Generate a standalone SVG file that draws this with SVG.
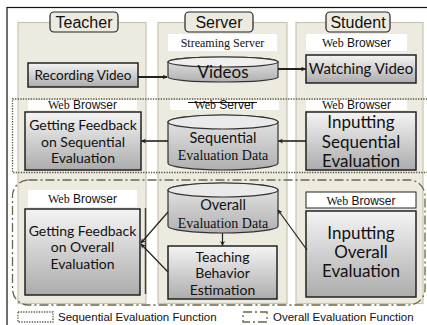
<svg xmlns="http://www.w3.org/2000/svg" width="427" height="325" viewBox="0 0 427 325">
<defs>
<linearGradient id="g" x1="0" y1="0" x2="0" y2="1">
<stop offset="0" stop-color="#F4F4F4"/>
<stop offset="1" stop-color="#ACACAC"/>
</linearGradient>
<linearGradient id="gc" x1="0" y1="0" x2="0" y2="1">
<stop offset="0" stop-color="#E8E8E8"/>
<stop offset="1" stop-color="#B0B0B0"/>
</linearGradient>
<marker id="ah" viewBox="0 0 10 10" refX="9" refY="5" markerWidth="5" markerHeight="5" orient="auto" markerUnits="userSpaceOnUse">
<path d="M0,0 L10,5 L0,10 L3,5 Z" fill="#222"/>
</marker>
<style>
.col{fill:#EDEAE0;stroke:#C9C5B3;stroke-width:1.2}
.hdr{fill:#EDEAE0;stroke:#222;stroke-width:1.2}
.ht{font-family:"Liberation Sans",Arial,sans-serif;font-size:16px;fill:#111;text-anchor:middle}
.lbl{fill:#FFFFFF;stroke:none}
.lt{font-family:"Liberation Sans",Arial,sans-serif;font-size:12px;fill:#111;text-anchor:middle}
.se{font-family:"Liberation Serif","Times New Roman",serif}
.box{fill:url(#g);stroke:#222;stroke-width:1.5}
.cyl{fill:url(#gc);stroke:#333;stroke-width:1.2}
.bt{font-family:Lato,"Open Sans",sans-serif;fill:#111;text-anchor:middle}
.ct{font-family:"Liberation Serif","Times New Roman",serif;font-size:14px;fill:#111;text-anchor:middle}
.con{stroke:#222;fill:none}
.dot{fill:none;stroke:#5A5540;stroke-width:1.3;stroke-dasharray:1.3 1.3}
.dd{fill:none;stroke:#6B6648;stroke-width:1.3;stroke-dasharray:9 3 2 3}
.leg{font-family:"Liberation Sans",Arial,sans-serif;font-size:11.5px;fill:#111}
</style>
</defs>
<rect x="0" y="0" width="427" height="325" fill="#FFFFFF"/>
<rect x="7" y="7.5" width="440" height="340" fill="none" stroke="#111" stroke-width="1.2"/>

<g id="col-teacher">
<rect class="col" x="18" y="22.5" width="128" height="281"/>
<rect class="hdr" x="50" y="12" width="68" height="20" rx="4"/>
<text class="ht" x="84" y="28">Teacher</text>
</g>
<g id="col-server">
<rect class="col" x="158" y="22.5" width="129" height="281"/>
<rect class="hdr" x="185" y="12" width="68" height="20" rx="4"/>
<text class="ht" x="219" y="28">Server</text>
</g>
<g id="col-student">
<rect class="col" x="296" y="22.5" width="127" height="281"/>
<rect class="hdr" x="326" y="12" width="64" height="20" rx="4"/>
<text class="ht" x="358" y="28">Student</text>
</g>

<g id="frames">
<rect class="dot" x="12.5" y="99" width="440" height="73.5"/>
<rect class="dd" x="12.5" y="180" width="412.5" height="125" rx="16"/>
<line x1="145.5" y1="208" x2="145.5" y2="294" stroke="#4A4632" stroke-width="1.5"/>
</g>

<g id="recording-video">
<rect class="box" x="28" y="63" width="110" height="24"/>
<text class="bt" x="83" y="80" font-size="13.5">Recording Video</text>
</g>
<g id="streaming-server">
<rect class="lbl" x="168" y="34" width="109" height="17"/>
<text class="lt se" x="222.5" y="47">Streaming Server</text>
</g>
<g id="videos">
<path class="cyl" d="M168,62 A55,5 0 0 1 278,62 V77 A55,5 0 0 1 168,77 Z"/>
<ellipse cx="223" cy="62" rx="55" ry="5" fill="#EFEFEF" stroke="#333" stroke-width="1.2"/>
<text class="bt" x="223" y="78" font-size="17">Videos</text>
</g>
<g id="student-browser-1">
<rect class="lbl" x="306" y="34" width="101" height="17"/>
<text class="lt" x="356.5" y="47"><tspan class="se">Web</tspan> Browser</text>
</g>
<g id="watching-video">
<rect class="box" x="306" y="55" width="110" height="28"/>
<text class="bt" x="361" y="74" font-size="15">Watching Video</text>
</g>

<g id="teacher-browser-2">
<rect class="lbl" x="28" y="100" width="109" height="10"/>
<text class="lt" x="82.5" y="109"><tspan class="se">Web</tspan> Browser</text>
</g>
<g id="getting-feedback-seq">
<rect class="box" x="25" y="112" width="116" height="58"/>
<text class="bt" x="83" y="130" font-size="14">Getting Feedback</text>
<text class="bt" x="83" y="146.5" font-size="14">on Sequential</text>
<text class="bt" x="83" y="163" font-size="14">Evaluation</text>
</g>
<g id="web-server">
<rect class="lbl" x="170" y="100" width="109" height="10"/>
<line x1="188" y1="102.5" x2="257" y2="102.5" stroke="#111" stroke-width="1"/>
<text class="lt" x="224.5" y="109"><tspan class="se">Web</tspan> Server</text>
</g>
<g id="seq-eval-data">
<path class="cyl" d="M168,122 A55,7 0 0 1 278,122 V163 A55,7 0 0 1 168,163 Z"/>
<ellipse cx="223" cy="122" rx="55" ry="7" fill="#EAEAEA" stroke="#333" stroke-width="1.2"/>
<text class="bt" x="223" y="143" font-size="14.5">Sequential</text>
<text class="ct" x="223" y="160">Evaluation Data</text>
</g>
<g id="student-browser-2">
<rect class="lbl" x="306" y="100" width="101" height="10"/>
<text class="lt" x="356.5" y="109"><tspan class="se">Web</tspan> Browser</text>
</g>
<g id="inputting-seq">
<rect class="box" x="306" y="112" width="110" height="58"/>
<text class="bt" x="361" y="127.5" font-size="17">Inputting</text>
<text class="bt" x="361" y="147.5" font-size="17">Sequential</text>
<text class="bt" x="361" y="167" font-size="17">Evaluation</text>
</g>

<g id="teacher-browser-3">
<rect class="lbl" x="28" y="190" width="109" height="17"/>
<text class="lt" x="82.5" y="203"><tspan class="se">Web</tspan> Browser</text>
</g>
<g id="getting-feedback-overall">
<rect class="box" x="25" y="209" width="115" height="86"/>
<text class="bt" x="82.5" y="235.5" font-size="14">Getting Feedback</text>
<text class="bt" x="82.5" y="252" font-size="14">on Overall</text>
<text class="bt" x="82.5" y="268.5" font-size="14">Evaluation</text>
</g>
<g id="overall-eval-data">
<path class="cyl" d="M168,190 A55,7 0 0 1 278,190 V226 A55,7 0 0 1 168,226 Z"/>
<ellipse cx="223" cy="190" rx="55" ry="7" fill="#EAEAEA" stroke="#333" stroke-width="1.2"/>
<text class="bt" x="223" y="210" font-size="14.5">Overall</text>
<text class="ct" x="223" y="228">Evaluation Data</text>
</g>
<g id="teaching-behavior">
<rect class="box" x="168" y="246" width="109" height="53"/>
<text class="bt" x="222.5" y="262" font-size="14">Teaching</text>
<text class="bt" x="222.5" y="278" font-size="14">Behavior</text>
<text class="bt" x="222.5" y="294.5" font-size="14">Estimation</text>
</g>
<g id="student-browser-3">
<rect x="306" y="192" width="110" height="16" fill="#FFFFFF" stroke="#222" stroke-width="1"/>
<text class="lt" x="361" y="204.5"><tspan class="se">Web</tspan> Browser</text>
</g>
<g id="inputting-overall">
<rect class="box" x="306" y="211" width="110" height="86"/>
<text class="bt" x="361" y="239" font-size="17">Inputting</text>
<text class="bt" x="361" y="258" font-size="17">Overall</text>
<text class="bt" x="361" y="277" font-size="17">Evaluation</text>
</g>

<g id="connectors">
<line class="con" x1="138" y1="77" x2="167" y2="77" stroke-width="2" marker-end="url(#ah)"/>
<line class="con" x1="278" y1="69" x2="305.5" y2="69" stroke-width="2" marker-end="url(#ah)"/>
<line class="con" x1="168" y1="141" x2="141.5" y2="141" stroke-width="1.6" marker-end="url(#ah)"/>
<line class="con" x1="306" y1="141" x2="278.5" y2="141" stroke-width="1.6" marker-end="url(#ah)"/>
<line class="con" x1="222.5" y1="233" x2="222.5" y2="245.5" stroke-width="1.2" marker-end="url(#ah)"/>
<line class="con" x1="168" y1="212" x2="141" y2="243" stroke-width="1.2" marker-end="url(#ah)"/>
<line class="con" x1="168" y1="272" x2="141" y2="244" stroke-width="1.2" marker-end="url(#ah)"/>
<line class="con" x1="307" y1="250" x2="278" y2="210" stroke-width="1.2" marker-end="url(#ah)"/>
</g>

<g id="legend">
<rect class="dot" x="18" y="312" width="35" height="10"/>
<text class="leg" x="58" y="321">Sequential Evaluation Function</text>
<rect class="dd" x="243" y="312" width="24" height="10" stroke-dasharray="6 2 1.5 2"/>
<text class="leg" x="273" y="321">Overall Evaluation Function</text>
</g>
</svg>
